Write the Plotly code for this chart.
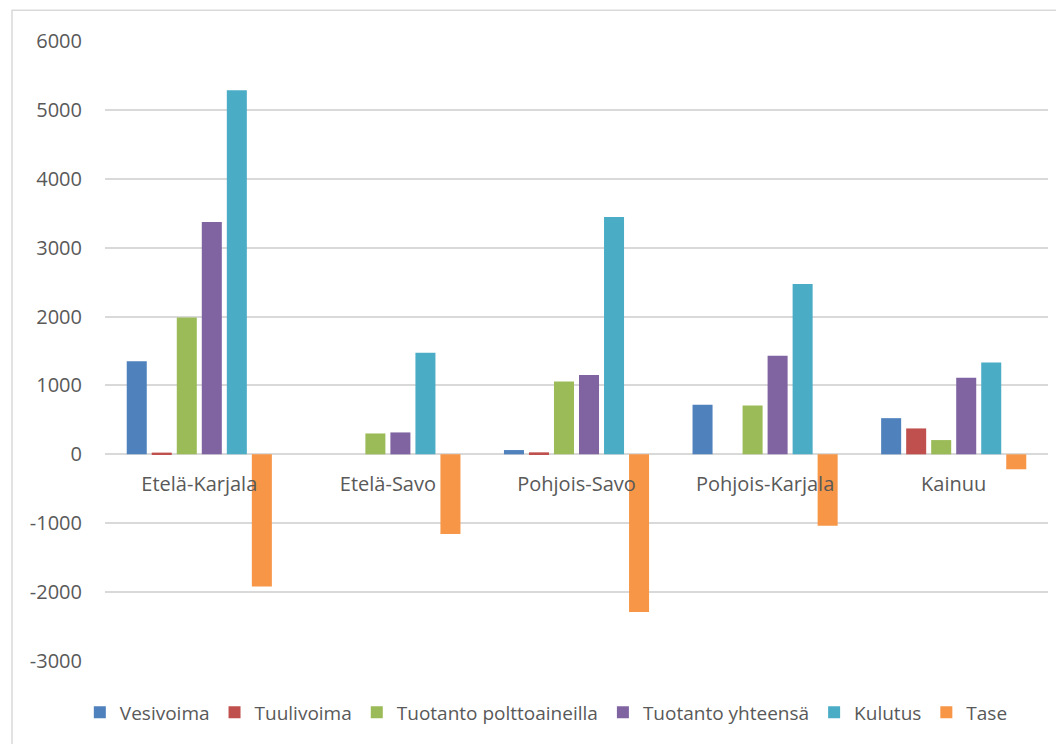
import plotly.graph_objects as go

regions = ["Etelä-Karjala", "Etelä-Savo", "Pohjois-Savo", "Pohjois-Karjala", "Kainuu"]
series_names = ["Vesivoima", "Tuulivoima", "Tuotanto polttoaineilla", "Tuotanto yhteensä", "Kulutus", "Tase"]

vesivoima = [1350, 0, 62, 718, 525]
tuulivoima = [25, 0, 29, 0, 376]
polttoaineilla = [1985, 303, 1059, 708, 207]
yhteensa = [3371, 318, 1151, 1431, 1113]
kulutus = [5285, 1474, 3444, 2471, 1334]
tase = [-1917, -1156, -2288, -1036, -217]

colors = ["#4F81BD", "#C0504D", "#9BBB59", "#8064A2", "#4BACC6", "#F79646"]
values = [vesivoima, tuulivoima, polttoaineilla, yhteensa, kulutus, tase]

yticks = [-3000, -2000, -1000, 0, 1000, 2000, 3000, 4000, 5000, 6000]
ytick_labels = ["-3000", "-2000", "-1000", "0", "1000", "2000", "3000", "4000", "5000", "6000"]

FONT = "Open Sans"
TXT = "#595959"

fig = go.Figure()
for name, vals, col in zip(series_names, values, colors):
    fig.add_trace(go.Bar(x=regions, y=vals, name=name, marker_color=col,
                         marker_line_width=0))

fig.update_layout(
    width=1056, height=736,
    margin=dict(l=97, r=16, t=33, b=79),
    paper_bgcolor="white", plot_bgcolor="white",
    barmode="group", bargap=0.204, bargroupgap=0.2,
    font=dict(family=FONT, color=TXT, size=19),
    legend=dict(orientation="h", x=0.468, xanchor="center", y=-0.083, yanchor="middle",
                font=dict(size=19, family=FONT, color=TXT), traceorder="normal",
                itemwidth=30),
    showlegend=True,
)
fig.update_xaxes(anchor="free", position=1/3, showline=False, ticks="",
                 tickfont=dict(size=20, family=FONT, color=TXT), ticklabelstandoff=16,
                 showgrid=False, zeroline=False)
fig.update_yaxes(range=[-3000, 6000], tickvals=yticks, ticktext=ytick_labels, showgrid=True,
                 gridcolor="#d9d9d9", gridwidth=1.5, zeroline=True, zerolinecolor="#d9d9d9",
                 zerolinewidth=1.5, showline=False, ticks="", ticklabelstandoff=22,
                 tickfont=dict(size=20, family=FONT, color=TXT))

fig.add_shape(type="rect", xref="paper", yref="paper",
              x0=-93/943, x1=1.05, y0=-0.2, y1=1 + 31/624,
              line=dict(color="#d9d9d9", width=1.5), fillcolor="rgba(0,0,0,0)", layer="below")

fig.write_html("out.html")
